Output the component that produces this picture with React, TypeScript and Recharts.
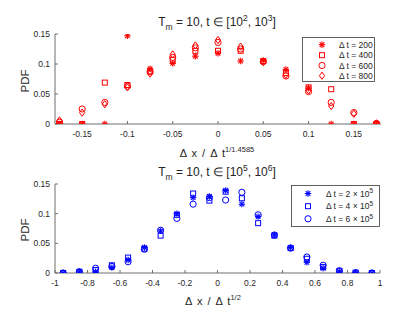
import React from 'react';
import { ScatterChart, Scatter, XAxis, YAxis, Legend } from 'recharts';

const RED = '#ff0000';
const BLUE = '#0000ff';
const AXIS = '#6f6f6f';
const TEXT = '#262626';
const FONT = '"Liberation Sans", Arial, Helvetica, sans-serif';

// top panel: t in [10^2, 10^3]
const topX = [-0.175, -0.15, -0.125, -0.1, -0.075, -0.05, -0.025, 0, 0.025, 0.05, 0.075, 0.1, 0.125, 0.15, 0.175];
const dt200 = [0, 0, 0, 0.147, 0.092, 0.101, 0.113, 0.118, 0.105, 0.106, 0.091, 0.06, 0, 0, 0];
const dt400 = [0, 0, 0.069, 0.065, 0.088, 0.107, 0.122, 0.122, 0.122, 0.105, 0.085, 0.061, 0.058, 0, 0];
const dt600 = [0.003, 0.025, 0.036, 0.063, 0.087, 0.111, 0.127, 0.136, 0.125, 0.104, 0.08, 0.054, 0.036, 0.019, 0.001];
const dt800 = [0.006, 0.019, 0.033, 0.061, 0.084, 0.116, 0.131, 0.14, 0.129, 0.103, 0.082, 0.056, 0.03, 0.017, 0.001];
const topXTicks = [-0.15, -0.1, -0.05, 0, 0.05, 0.1, 0.15];

// bottom panel: t in [10^5, 10^6]
const bottomX = [-0.95, -0.85, -0.75, -0.65, -0.55, -0.45, -0.35, -0.25, -0.15, -0.05, 0.05, 0.15, 0.25, 0.35, 0.45, 0.55, 0.65, 0.75, 0.85, 0.95];
const dt2e5 = [0, 0.002, 0.002, 0.009, 0.022, 0.043, 0.071, 0.1, 0.127, 0.129, 0.139, 0.116, 0.095, 0.064, 0.043, 0.018, 0.008, 0.002, 0.0005, 0];
const dt4e5 = [0, 0.002, 0.005, 0.013, 0.026, 0.041, 0.063, 0.098, 0.134, 0.122, 0.137, 0.126, 0.084, 0.063, 0.042, 0.024, 0.01, 0.003, 0.0005, 0];
const dt6e5 = [0, 0.002, 0.008, 0.011, 0.019, 0.04, 0.072, 0.092, 0.116, 0.127, 0.123, 0.136, 0.098, 0.064, 0.042, 0.027, 0.013, 0.004, 0.0005, 0];
const bottomXTicks = [-1, -0.8, -0.6, -0.4, -0.2, 0, 0.2, 0.4, 0.6, 0.8, 1];

const yTicks = [0, 0.05, 0.1, 0.15];

type Kind = 'asterisk' | 'square' | 'circle' | 'diamond';

function Marker({ kind, cx, cy, color }: { kind: Kind; cx: number; cy: number; color: string }) {
  if (kind === 'asterisk') {
    const r = 3.2;
    const d = 2.3;
    return (
      <g stroke={color} strokeWidth={1.1}>
        <line x1={cx - r} y1={cy} x2={cx + r} y2={cy} />
        <line x1={cx} y1={cy - r} x2={cx} y2={cy + r} />
        <line x1={cx - d} y1={cy - d} x2={cx + d} y2={cy + d} />
        <line x1={cx - d} y1={cy + d} x2={cx + d} y2={cy - d} />
      </g>
    );
  }
  if (kind === 'square') {
    return <rect x={cx - 2.5} y={cy - 2.5} width={5} height={5} fill="none" stroke={color} strokeWidth={1} />;
  }
  if (kind === 'circle') {
    return <circle cx={cx} cy={cy} r={3.1} fill="none" stroke={color} strokeWidth={1} />;
  }
  return (
    <polygon
      points={`${cx},${cy - 3.6} ${cx + 2.6},${cy} ${cx},${cy + 3.6} ${cx - 2.6},${cy}`}
      fill="none"
      stroke={color}
      strokeWidth={1}
    />
  );
}

const shapeOf = (kind: Kind, color: string) => (props: any) =>
  <Marker kind={kind} cx={props.cx} cy={props.cy} color={color} />;

const toPoints = (xs: number[], ys: number[]) => xs.map((x, i) => ({ x, y: ys[i] }));

interface SeriesDef {
  name: string;
  kind: Kind;
  values: number[];
  label: React.ReactNode;
}

const topSeries: SeriesDef[] = [
  { name: 'Δ t = 200', kind: 'asterisk', values: dt200, label: 'Δ t = 200' },
  { name: 'Δ t = 400', kind: 'square', values: dt400, label: 'Δ t = 400' },
  { name: 'Δ t = 600', kind: 'circle', values: dt600, label: 'Δ t = 600' },
  { name: 'Δ t = 800', kind: 'diamond', values: dt800, label: 'Δ t = 800' },
];

const bottomSeries: SeriesDef[] = [
  { name: 'Δ t = 2 × 10^5', kind: 'asterisk', values: dt2e5, label: <>Δ t = 2 × 10<tspan dy={-3.5} fontSize={6.5}>5</tspan></> },
  { name: 'Δ t = 4 × 10^5', kind: 'square', values: dt4e5, label: <>Δ t = 4 × 10<tspan dy={-3.5} fontSize={6.5}>5</tspan></> },
  { name: 'Δ t = 6 × 10^5', kind: 'circle', values: dt6e5, label: <>Δ t = 6 × 10<tspan dy={-3.5} fontSize={6.5}>5</tspan></> },
];

interface LegendBox {
  left: number;
  top: number;
  width: number;
  height: number;
  markerX: number;
  textX: number;
  rowY: number[];
}

function LegendPanel({ series, color, box }: { series: SeriesDef[]; color: string; box: LegendBox }) {
  return (
    <svg width={box.width} height={box.height} style={{ display: 'block' }}>
      <rect x={0.5} y={0.5} width={box.width - 1} height={box.height - 1} fill="#fff" stroke="#3a3a3a" strokeWidth={0.8} />
      {series.map((s, i) => (
        <g key={s.name}>
          <Marker kind={s.kind} cx={box.markerX} cy={box.rowY[i]} color={color} />
          <text x={box.textX} y={box.rowY[i] + 3.2} fontSize={8.5} fontFamily={FONT} fill={TEXT}>
            {s.label}
          </text>
        </g>
      ))}
    </svg>
  );
}

interface PanelProps {
  top: number;
  height: number;
  marginRight: number;
  xAxisHeight: number;
  xs: number[];
  xDomain: [number, number];
  xTicks: number[];
  series: SeriesDef[];
  color: string;
  legend: LegendBox;
}

const tickStyle = { fill: TEXT, fontSize: 8.5, fontFamily: FONT };

function Panel({ top, height, marginRight, xAxisHeight, xs, xDomain, xTicks, series, color, legend }: PanelProps) {
  return (
    <div style={{ position: 'absolute', left: 0, top }}>
      <ScatterChart width={420} height={height} margin={{ top: 34, right: marginRight, bottom: 0, left: 0 }}>
        <XAxis
          type="number"
          dataKey="x"
          domain={xDomain}
          ticks={xTicks}
          interval={0}
          allowDataOverflow
          height={xAxisHeight}
          tick={tickStyle}
          tickSize={-3}
          tickMargin={10}
          axisLine={{ stroke: AXIS }}
          tickLine={{ stroke: AXIS }}
        />
        <XAxis
          xAxisId="top"
          orientation="top"
          type="number"
          domain={xDomain}
          ticks={xTicks}
          interval={0}
          allowDataOverflow
          height={0}
          tick={false}
          tickSize={-3}
          axisLine={{ stroke: AXIS }}
          tickLine={{ stroke: AXIS }}
        />
        <YAxis
          type="number"
          dataKey="y"
          domain={[0, 0.15]}
          ticks={yTicks}
          interval={0}
          allowDataOverflow
          width={55}
          tick={tickStyle}
          tickSize={-3}
          tickMargin={8}
          axisLine={{ stroke: AXIS }}
          tickLine={{ stroke: AXIS }}
        />
        <YAxis
          yAxisId="right"
          orientation="right"
          type="number"
          domain={[0, 0.15]}
          ticks={yTicks}
          interval={0}
          allowDataOverflow
          width={0}
          tick={false}
          tickSize={-3}
          axisLine={{ stroke: AXIS }}
          tickLine={{ stroke: AXIS }}
        />
        {series.map((s) => (
          <Scatter
            key={s.name}
            name={s.name}
            data={toPoints(xs, s.values)}
            shape={shapeOf(s.kind, color)}
            isAnimationActive={false}
          />
        ))}
        <Legend
          layout="vertical"
          align="center"
          verticalAlign="middle"
          wrapperStyle={{ left: legend.left, top: legend.top, width: legend.width, height: legend.height, bottom: 'auto' }}
          content={() => <LegendPanel series={series} color={color} box={legend} />}
        />
      </ScatterChart>
    </div>
  );
}

export default function App() {
  return (
    <div style={{ position: 'absolute', left: 0, top: 0, width: 420, height: 315, background: '#fff', fontFamily: FONT }}>
      <Panel
        top={0}
        height={160}
        marginRight={39}
        xAxisHeight={36}
        xs={topX}
        xDomain={[-0.18, 0.18]}
        xTicks={topXTicks}
        series={topSeries}
        color={RED}
        legend={{ left: 302, top: 37, width: 73, height: 45, markerX: 20, textX: 37, rowY: [7.7, 18.2, 28.5, 38.7] }}
      />
      <Panel
        top={150}
        height={165}
        marginRight={40}
        xAxisHeight={42}
        xs={bottomX}
        xDomain={[-1, 1]}
        xTicks={bottomXTicks}
        series={bottomSeries}
        color={BLUE}
        legend={{ left: 291, top: 35, width: 89, height: 42, markerX: 17, textX: 35, rowY: [8.5, 21.2, 33.8] }}
      />
      <svg width={420} height={315} style={{ position: 'absolute', left: 0, top: 0, pointerEvents: 'none' }} fontFamily={FONT} fill={TEXT}>
        <text x={217} y={26} textAnchor="middle" fontSize={12}>
          T<tspan dy={4} fontSize={8.5}>m</tspan>
          <tspan dy={-4}> = 10, t ∈ [10</tspan>
          <tspan dy={-5} fontSize={8.5}>2</tspan>
          <tspan dy={5}>, 10</tspan>
          <tspan dy={-5} fontSize={8.5}>3</tspan>
          <tspan dy={5}>]</tspan>
        </text>
        <text x={217} y={157} textAnchor="middle" fontSize={11} wordSpacing={2}>
          Δ x / Δ t<tspan dy={-5} fontSize={7.5}>1/1.4585</tspan>
        </text>
        <text x={29} y={81} textAnchor="middle" fontSize={11.5} transform="rotate(-90 29 81)">PDF</text>
        <text x={217} y={176} textAnchor="middle" fontSize={12}>
          T<tspan dy={4} fontSize={8.5}>m</tspan>
          <tspan dy={-4}> = 10, t ∈ [10</tspan>
          <tspan dy={-5} fontSize={8.5}>5</tspan>
          <tspan dy={5}>, 10</tspan>
          <tspan dy={-5} fontSize={8.5}>6</tspan>
          <tspan dy={5}>]</tspan>
        </text>
        <text x={213} y={305} textAnchor="middle" fontSize={11} wordSpacing={2}>
          Δ x / Δ t<tspan dy={-5} fontSize={7.5}>1/2</tspan>
        </text>
        <text x={29} y={230} textAnchor="middle" fontSize={11.5} transform="rotate(-90 29 230)">PDF</text>
      </svg>
    </div>
  );
}
